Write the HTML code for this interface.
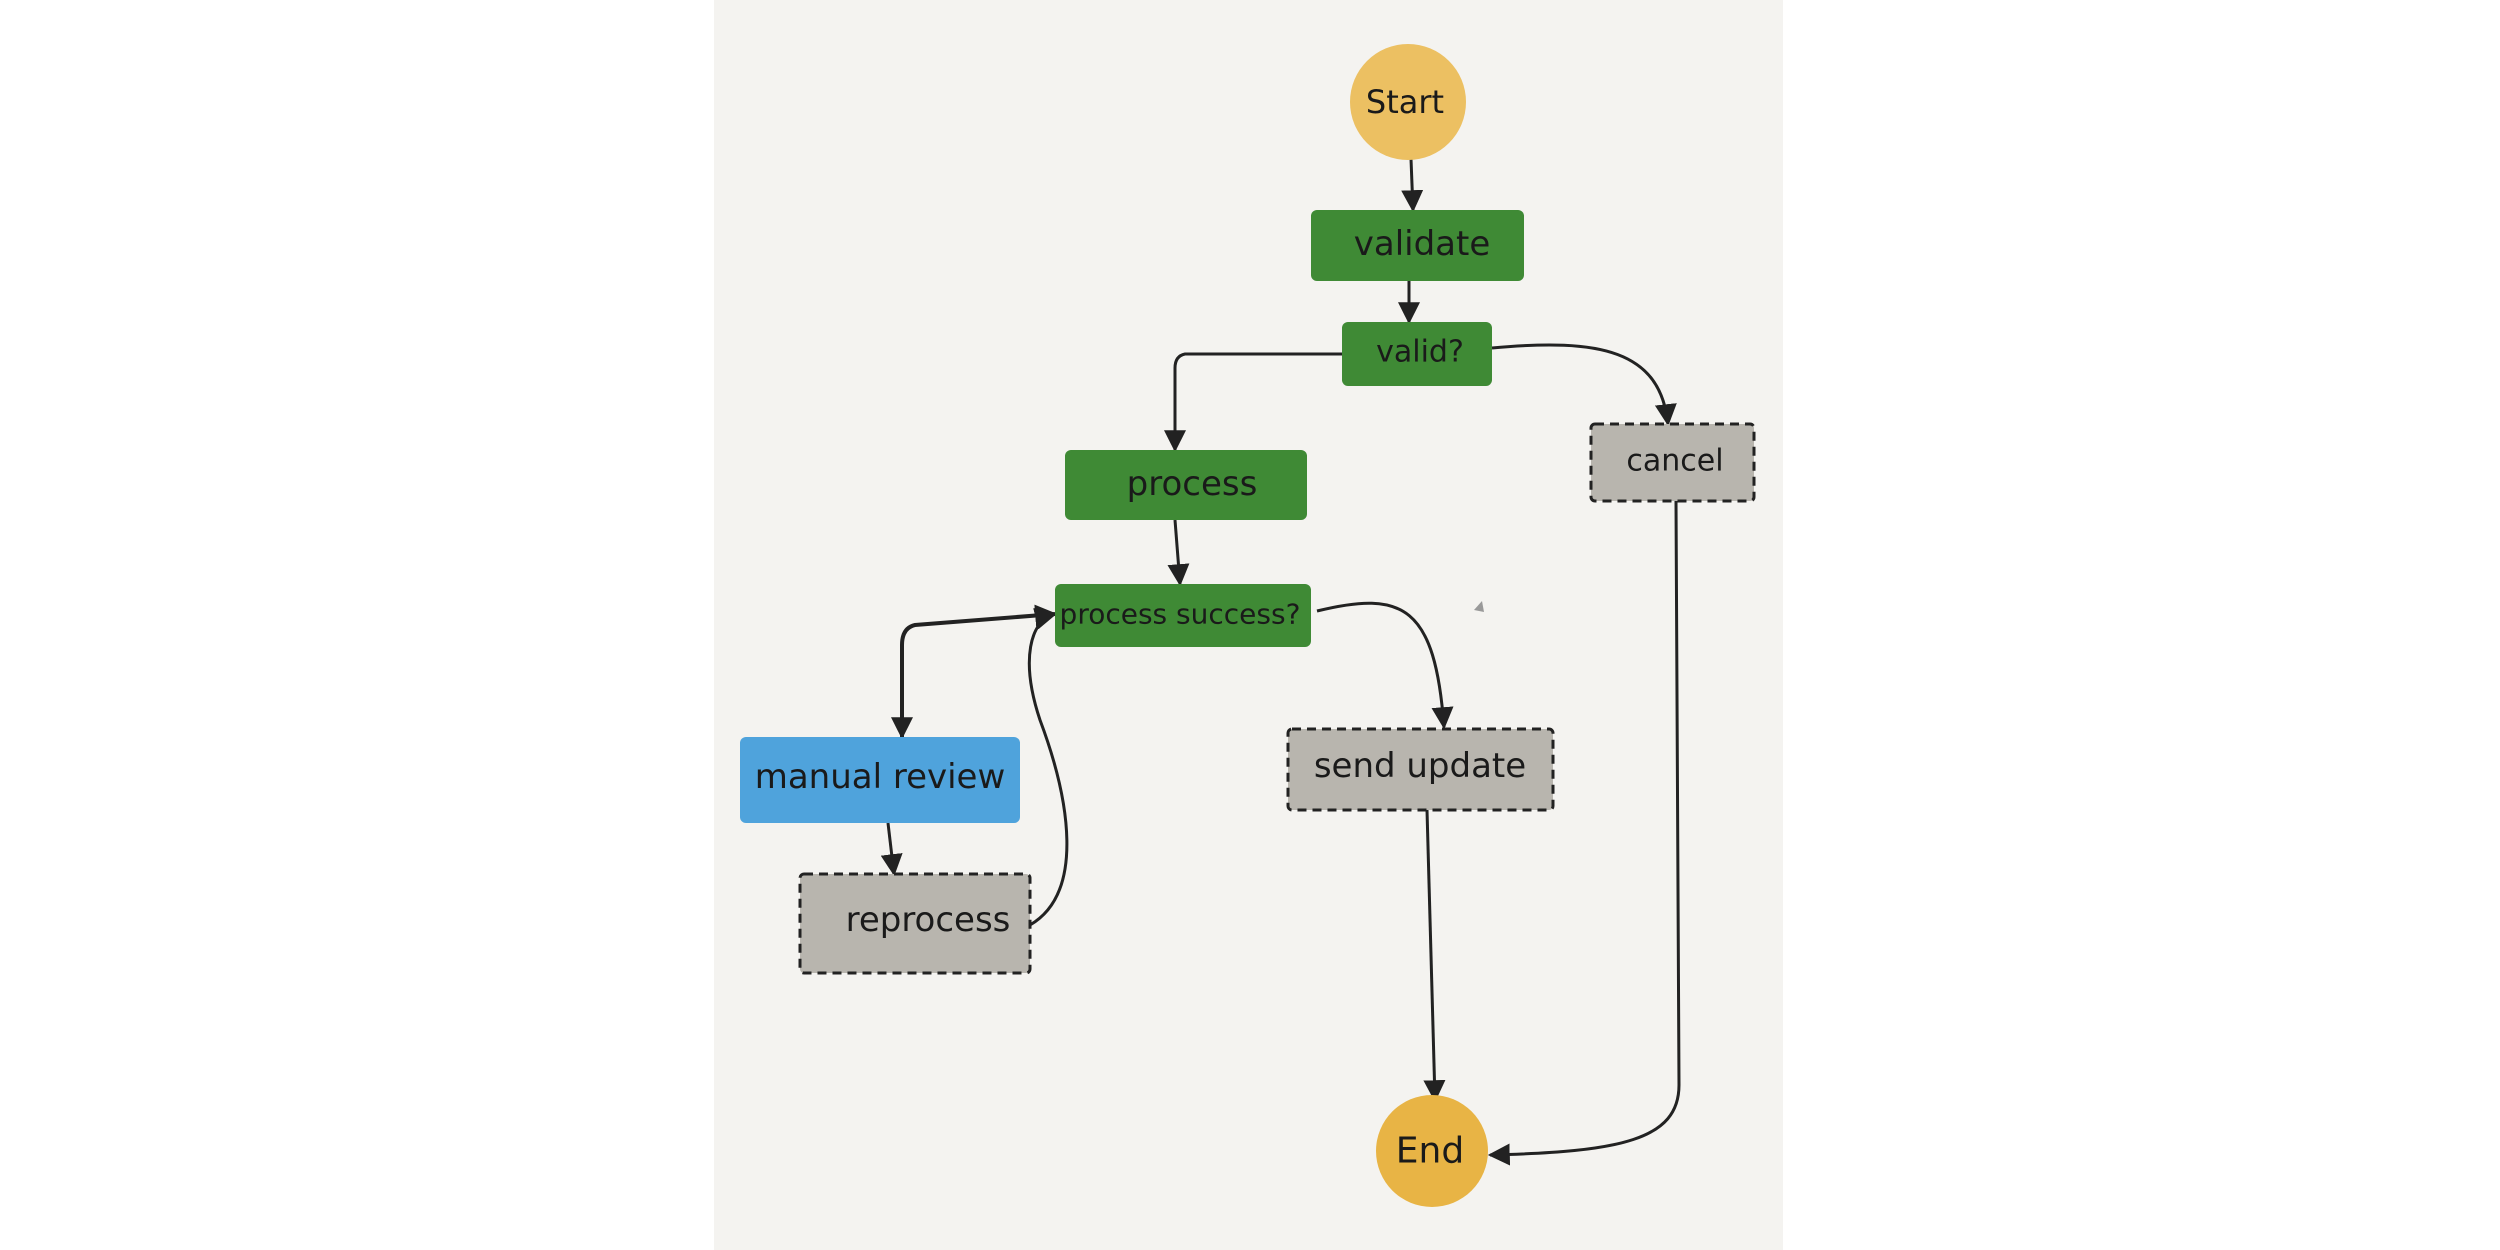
<!DOCTYPE html>
<html><head><meta charset="utf-8"><style>
html,body{margin:0;padding:0;background:#fff;}
svg{display:block;}
text{font-family:"DejaVu Sans","Liberation Sans",sans-serif;fill:#1a1a1a;text-anchor:middle;dominant-baseline:central;}
</style></head><body>
<svg width="2500" height="1250" viewBox="0 0 2500 1250" xmlns="http://www.w3.org/2000/svg">
<defs>
<marker id="b" viewBox="0 0 10 10" refX="9" refY="5" markerWidth="22" markerHeight="22" orient="auto-start-reverse" markerUnits="userSpaceOnUse"><path d="M0,0 L10,5 L0,10 z" fill="#222"/></marker>
</defs>
<rect x="0" y="0" width="2500" height="1250" fill="#fff"/>
<rect x="714" y="0" width="1069" height="1250" fill="#f4f3f0"/>

<g fill="none" stroke="#222" stroke-width="3">
<path d="M1411,159 L1413,210" marker-end="url(#b)"/>
<path d="M1409,281 L1409,322" marker-end="url(#b)"/>
<path d="M1342,354 L1185,354 Q1175,356 1175,368 L1175,450" marker-end="url(#b)"/>
<path d="M1492,348 C1600,338 1660,350 1668,424" marker-end="url(#b)"/>
<path d="M1175,520 L1180,584" marker-end="url(#b)"/>
<path d="M1317,611 C1403,590 1435,606 1444,727" marker-end="url(#b)"/>
<path d="M1055,614 L915,625 Q902,628 902,645 L902,737" stroke-width="4" marker-start="url(#b)" marker-end="url(#b)"/>
<path d="M888,823 L894,874" marker-end="url(#b)"/>
<path d="M1030,925 C1085,893 1070,800 1040,720 C1020,660 1030,620 1055,614" marker-end="url(#b)"/>
<path d="M1427,810 L1435,1100" marker-end="url(#b)"/>
<path d="M1676,501 L1679,1085 C1679,1140 1620,1152 1490,1155" marker-end="url(#b)"/>
</g>
<path d="M1474,610 L1482,601 L1484,612 z" fill="#999"/>

<circle cx="1408" cy="102" r="58" fill="#ecc062"/>
<text x="1405" y="102" font-size="32">Start</text>

<rect x="1311" y="210" width="213" height="71" rx="6" fill="#3f8a35"/>
<text x="1422" y="244" font-size="34">validate</text>

<rect x="1342" y="322" width="150" height="64" rx="6" fill="#3f8a35"/>
<text x="1420" y="352" font-size="30">valid?</text>

<rect x="1591" y="424" width="163" height="77" rx="4" fill="#b8b5ae" stroke="#222" stroke-width="3" stroke-dasharray="9,6"/>
<text x="1675" y="461" font-size="30">cancel</text>

<rect x="1065" y="450" width="242" height="70" rx="6" fill="#3f8a35"/>
<text x="1192" y="484" font-size="34">process</text>

<rect x="1055" y="584" width="256" height="63" rx="6" fill="#3f8a35"/>
<text x="1180" y="614" font-size="28">process success?</text>

<rect x="740" y="737" width="280" height="86" rx="6" fill="#4fa3dc"/>
<text x="880" y="777" font-size="34">manual review</text>

<rect x="800" y="874" width="230" height="99" rx="4" fill="#b8b5ae" stroke="#222" stroke-width="3" stroke-dasharray="9,6"/>
<text x="928" y="920" font-size="34">reprocess</text>

<rect x="1288" y="729" width="265" height="81" rx="4" fill="#b8b5ae" stroke="#222" stroke-width="3" stroke-dasharray="9,6"/>
<text x="1420" y="766" font-size="34">send update</text>

<circle cx="1432" cy="1151" r="56" fill="#e8b445"/>
<text x="1430" y="1151" font-size="36">End</text>
</svg>
</body></html>
